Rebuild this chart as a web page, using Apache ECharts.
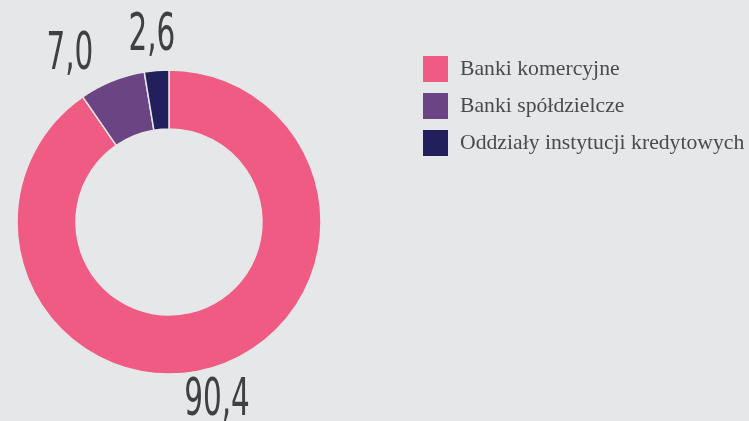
<!DOCTYPE html>
<html>
<head>
<meta charset="utf-8">
<script src="https://cdn.jsdelivr.net/npm/echarts@6/dist/echarts.min.js"></script>
<style>
  html, body { margin: 0; padding: 0; background: #e6e7e8; }
  #chart { width: 749px; height: 421px; }
</style>
</head>
<body>
<div id="chart"></div>
<script>
// Structure of the banking sector by share (%)
const categories = ['Banki komercyjne', 'Banki spółdzielcze', 'Oddziały instytucji kredytowych'];
const shares = [90.4, 7.0, 2.6];
const colors = ['#ef5b82', '#6a4483', '#231f5c'];

// Value labels: distance beyond the outer edge, and a fine shift per label
const labelGap = 33;
const labelShift = [[-7, 3], [-30, 5], [-2, -1]];

const chart = echarts.init(document.getElementById('chart'), null, { renderer: 'canvas' });

const fmt = v => v.toFixed(1).replace('.', ',');

chart.setOption({
  backgroundColor: '#e6e7e8',
  animation: false,
  color: colors,
  legend: {
    orient: 'vertical',
    left: 421,
    top: 54,
    padding: 0,
    itemWidth: 27,
    itemHeight: 28,
    itemGap: 7,
    icon: 'rect',
    data: categories,
    textStyle: {
      fontFamily: 'Liberation Serif',
      fontSize: 21.7,
      lineHeight: 24,
      color: '#4a4a4a',
      padding: [0, 0, 0, 6]
    }
  },
  series: [{
    type: 'pie',
    center: [169, 222],
    radius: [93, 152],
    startAngle: 90,
    clockwise: true,
    itemStyle: { borderColor: '#e6e7e8', borderWidth: 1.5 },
    label: { show: false },
    labelLine: { show: false },
    emphasis: { disabled: true },
    data: categories.map((name, i) => ({ name: name, value: shares[i] }))
  }]
});

// Place condensed value labels along each slice's mid angle,
// using the sector layout computed by the pie series.
const data = chart.getModel().getSeriesByIndex(0).getData();
const texts = [];
data.each(function (i) {
  const lay = data.getItemLayout(i);
  const mid = (lay.startAngle + lay.endAngle) / 2;
  const rr = lay.r + labelGap;
  texts.push({
    type: 'text',
    x: lay.cx + Math.cos(mid) * rr + labelShift[i][0],
    y: lay.cy + Math.sin(mid) * rr + labelShift[i][1],
    scaleX: 0.63,
    silent: true,
    style: {
      text: fmt(shares[i]),
      font: '52px "DejaVu Sans Condensed", "DejaVu Sans"',
      fill: '#404042',
      textAlign: 'center',
      textVerticalAlign: 'middle'
    }
  });
});
chart.setOption({ graphic: texts });
</script>
</body>
</html>
